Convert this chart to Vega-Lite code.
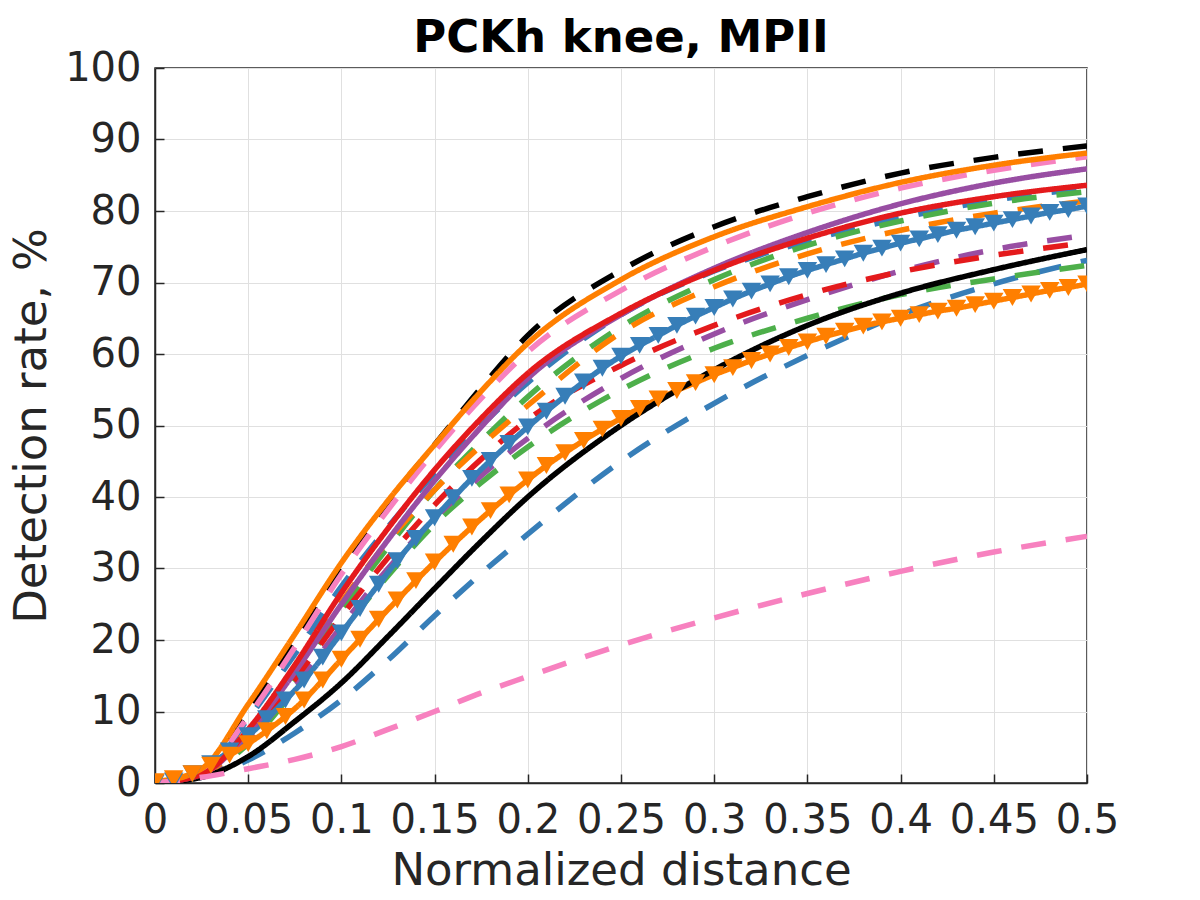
{
  "$schema": "https://vega.github.io/schema/vega-lite/v6.json",
  "width": 932,
  "height": 715,
  "autosize": {"type": "none"},
  "padding": {"left": 155, "top": 68, "right": 113, "bottom": 117},
  "background": "white",
  "title": {
    "text": "PCKh knee, MPII",
    "font": "DejaVu Sans",
    "fontSize": 45,
    "fontWeight": "bold",
    "color": "#000000",
    "anchor": "middle",
    "frame": "group",
    "baseline": "alphabetic",
    "offset": -49
  },
  "data": {"name": "curves"},
  "datasets": {
    "curves": [
      {"m": "blue_dash_lo", "t": 0, "r": 0}, {"m": "blue_dash_lo", "t": 0.025, "r": 0.8}, {"m": "blue_dash_lo", "t": 0.05, "r": 3.2}, {"m": "blue_dash_lo", "t": 0.075, "r": 7}, {"m": "blue_dash_lo", "t": 0.1, "r": 11.6}, {"m": "blue_dash_lo", "t": 0.125, "r": 17.2}, {"m": "blue_dash_lo", "t": 0.15, "r": 23.4}, {"m": "blue_dash_lo", "t": 0.175, "r": 29.3}, {"m": "blue_dash_lo", "t": 0.2, "r": 34.8}, {"m": "blue_dash_lo", "t": 0.25, "r": 45.0}, {"m": "blue_dash_lo", "t": 0.3, "r": 53.1}, {"m": "blue_dash_lo", "t": 0.35, "r": 59.8}, {"m": "blue_dash_lo", "t": 0.4, "r": 65.5}, {"m": "blue_dash_lo", "t": 0.45, "r": 69.8}, {"m": "blue_dash_lo", "t": 0.5, "r": 73.1},
      {"m": "blue_dash_hi", "t": 0, "r": 0}, {"m": "blue_dash_hi", "t": 0.025, "r": 1.2}, {"m": "blue_dash_hi", "t": 0.05, "r": 9}, {"m": "blue_dash_hi", "t": 0.075, "r": 18}, {"m": "blue_dash_hi", "t": 0.1, "r": 27.5}, {"m": "blue_dash_hi", "t": 0.125, "r": 35.8}, {"m": "blue_dash_hi", "t": 0.15, "r": 43.3}, {"m": "blue_dash_hi", "t": 0.175, "r": 50}, {"m": "blue_dash_hi", "t": 0.2, "r": 56}, {"m": "blue_dash_hi", "t": 0.25, "r": 65.5}, {"m": "blue_dash_hi", "t": 0.3, "r": 71.6}, {"m": "blue_dash_hi", "t": 0.35, "r": 75.8}, {"m": "blue_dash_hi", "t": 0.4, "r": 79.0}, {"m": "blue_dash_hi", "t": 0.45, "r": 81.5}, {"m": "blue_dash_hi", "t": 0.5, "r": 83.2},
      {"m": "green_dash_lo", "t": 0, "r": 0}, {"m": "green_dash_lo", "t": 0.025, "r": 1}, {"m": "green_dash_lo", "t": 0.05, "r": 5.5}, {"m": "green_dash_lo", "t": 0.075, "r": 13}, {"m": "green_dash_lo", "t": 0.1, "r": 21.2}, {"m": "green_dash_lo", "t": 0.125, "r": 29}, {"m": "green_dash_lo", "t": 0.15, "r": 36.2}, {"m": "green_dash_lo", "t": 0.175, "r": 42}, {"m": "green_dash_lo", "t": 0.2, "r": 47.0}, {"m": "green_dash_lo", "t": 0.25, "r": 55.0}, {"m": "green_dash_lo", "t": 0.3, "r": 60.8}, {"m": "green_dash_lo", "t": 0.35, "r": 65.0}, {"m": "green_dash_lo", "t": 0.4, "r": 68.3}, {"m": "green_dash_lo", "t": 0.45, "r": 70.5}, {"m": "green_dash_lo", "t": 0.5, "r": 72.4},
      {"m": "green_dash_hi", "t": 0, "r": 0}, {"m": "green_dash_hi", "t": 0.025, "r": 1}, {"m": "green_dash_hi", "t": 0.05, "r": 6.5}, {"m": "green_dash_hi", "t": 0.075, "r": 14.5}, {"m": "green_dash_hi", "t": 0.1, "r": 24.2}, {"m": "green_dash_hi", "t": 0.125, "r": 33}, {"m": "green_dash_hi", "t": 0.15, "r": 41.0}, {"m": "green_dash_hi", "t": 0.175, "r": 47.8}, {"m": "green_dash_hi", "t": 0.2, "r": 54.0}, {"m": "green_dash_hi", "t": 0.25, "r": 63.8}, {"m": "green_dash_hi", "t": 0.3, "r": 70.4}, {"m": "green_dash_hi", "t": 0.35, "r": 75.2}, {"m": "green_dash_hi", "t": 0.4, "r": 78.6}, {"m": "green_dash_hi", "t": 0.45, "r": 81.1}, {"m": "green_dash_hi", "t": 0.5, "r": 82.7},
      {"m": "purple_dash", "t": 0, "r": 0}, {"m": "purple_dash", "t": 0.025, "r": 1}, {"m": "purple_dash", "t": 0.05, "r": 6}, {"m": "purple_dash", "t": 0.075, "r": 13.5}, {"m": "purple_dash", "t": 0.1, "r": 21.9}, {"m": "purple_dash", "t": 0.125, "r": 30}, {"m": "purple_dash", "t": 0.15, "r": 37.0}, {"m": "purple_dash", "t": 0.175, "r": 43}, {"m": "purple_dash", "t": 0.2, "r": 48.2}, {"m": "purple_dash", "t": 0.25, "r": 56.6}, {"m": "purple_dash", "t": 0.3, "r": 62.8}, {"m": "purple_dash", "t": 0.35, "r": 67.6}, {"m": "purple_dash", "t": 0.4, "r": 71.6}, {"m": "purple_dash", "t": 0.45, "r": 74.6}, {"m": "purple_dash", "t": 0.5, "r": 76.6},
      {"m": "red_dash", "t": 0, "r": 0}, {"m": "red_dash", "t": 0.025, "r": 1.2}, {"m": "red_dash", "t": 0.05, "r": 6.5}, {"m": "red_dash", "t": 0.075, "r": 14.5}, {"m": "red_dash", "t": 0.1, "r": 23.3}, {"m": "red_dash", "t": 0.125, "r": 31.5}, {"m": "red_dash", "t": 0.15, "r": 38.9}, {"m": "red_dash", "t": 0.175, "r": 45.3}, {"m": "red_dash", "t": 0.2, "r": 50.8}, {"m": "red_dash", "t": 0.25, "r": 58.4}, {"m": "red_dash", "t": 0.3, "r": 64.0}, {"m": "red_dash", "t": 0.35, "r": 68.3}, {"m": "red_dash", "t": 0.4, "r": 71.5}, {"m": "red_dash", "t": 0.45, "r": 73.8}, {"m": "red_dash", "t": 0.5, "r": 75.6},
      {"m": "orange_dash", "t": 0, "r": 0}, {"m": "orange_dash", "t": 0.025, "r": 1}, {"m": "orange_dash", "t": 0.05, "r": 7}, {"m": "orange_dash", "t": 0.075, "r": 15.8}, {"m": "orange_dash", "t": 0.1, "r": 25.3}, {"m": "orange_dash", "t": 0.125, "r": 33.8}, {"m": "orange_dash", "t": 0.15, "r": 41}, {"m": "orange_dash", "t": 0.175, "r": 47.2}, {"m": "orange_dash", "t": 0.2, "r": 52.8}, {"m": "orange_dash", "t": 0.25, "r": 63.0}, {"m": "orange_dash", "t": 0.3, "r": 69.4}, {"m": "orange_dash", "t": 0.35, "r": 74.0}, {"m": "orange_dash", "t": 0.4, "r": 77.3}, {"m": "orange_dash", "t": 0.45, "r": 79.7}, {"m": "orange_dash", "t": 0.5, "r": 81.4},
      {"m": "blue_tri", "t": 0, "r": 0}, {"m": "blue_tri", "t": 0.01, "r": 0.3}, {"m": "blue_tri", "t": 0.02, "r": 1.3}, {"m": "blue_tri", "t": 0.03, "r": 2.7}, {"m": "blue_tri", "t": 0.04, "r": 4.5}, {"m": "blue_tri", "t": 0.05, "r": 6.6}, {"m": "blue_tri", "t": 0.06, "r": 9.0}, {"m": "blue_tri", "t": 0.07, "r": 11.6}, {"m": "blue_tri", "t": 0.08, "r": 14.4}, {"m": "blue_tri", "t": 0.09, "r": 17.6},
      {"m": "blue_tri", "t": 0.1, "r": 21.0}, {"m": "blue_tri", "t": 0.11, "r": 24.4}, {"m": "blue_tri", "t": 0.12, "r": 27.8}, {"m": "blue_tri", "t": 0.13, "r": 31.1}, {"m": "blue_tri", "t": 0.14, "r": 34.2}, {"m": "blue_tri", "t": 0.15, "r": 37.1}, {"m": "blue_tri", "t": 0.16, "r": 39.9}, {"m": "blue_tri", "t": 0.17, "r": 42.6}, {"m": "blue_tri", "t": 0.18, "r": 45.1}, {"m": "blue_tri", "t": 0.19, "r": 47.5},
      {"m": "blue_tri", "t": 0.2, "r": 49.8}, {"m": "blue_tri", "t": 0.21, "r": 52.0}, {"m": "blue_tri", "t": 0.22, "r": 54.1}, {"m": "blue_tri", "t": 0.23, "r": 56.1}, {"m": "blue_tri", "t": 0.24, "r": 58.0}, {"m": "blue_tri", "t": 0.25, "r": 59.7}, {"m": "blue_tri", "t": 0.26, "r": 61.2}, {"m": "blue_tri", "t": 0.27, "r": 62.6}, {"m": "blue_tri", "t": 0.28, "r": 64.0}, {"m": "blue_tri", "t": 0.29, "r": 65.3},
      {"m": "blue_tri", "t": 0.3, "r": 66.5}, {"m": "blue_tri", "t": 0.31, "r": 67.7}, {"m": "blue_tri", "t": 0.32, "r": 68.8}, {"m": "blue_tri", "t": 0.33, "r": 69.8}, {"m": "blue_tri", "t": 0.34, "r": 70.8}, {"m": "blue_tri", "t": 0.35, "r": 71.7}, {"m": "blue_tri", "t": 0.36, "r": 72.5}, {"m": "blue_tri", "t": 0.37, "r": 73.3}, {"m": "blue_tri", "t": 0.38, "r": 74.1}, {"m": "blue_tri", "t": 0.39, "r": 74.8},
      {"m": "blue_tri", "t": 0.4, "r": 75.5}, {"m": "blue_tri", "t": 0.41, "r": 76.1}, {"m": "blue_tri", "t": 0.42, "r": 76.7}, {"m": "blue_tri", "t": 0.43, "r": 77.3}, {"m": "blue_tri", "t": 0.44, "r": 77.8}, {"m": "blue_tri", "t": 0.45, "r": 78.3}, {"m": "blue_tri", "t": 0.46, "r": 78.8}, {"m": "blue_tri", "t": 0.47, "r": 79.3}, {"m": "blue_tri", "t": 0.48, "r": 79.8}, {"m": "blue_tri", "t": 0.49, "r": 80.2}, {"m": "blue_tri", "t": 0.5, "r": 80.7},
      {"m": "orange_tri", "t": 0, "r": 0.2}, {"m": "orange_tri", "t": 0.01, "r": 0.6}, {"m": "orange_tri", "t": 0.02, "r": 1.3}, {"m": "orange_tri", "t": 0.03, "r": 2.5}, {"m": "orange_tri", "t": 0.04, "r": 3.9}, {"m": "orange_tri", "t": 0.05, "r": 5.5}, {"m": "orange_tri", "t": 0.06, "r": 7.3}, {"m": "orange_tri", "t": 0.07, "r": 9.3}, {"m": "orange_tri", "t": 0.08, "r": 11.6}, {"m": "orange_tri", "t": 0.09, "r": 14.4},
      {"m": "orange_tri", "t": 0.1, "r": 17.3}, {"m": "orange_tri", "t": 0.11, "r": 20.1}, {"m": "orange_tri", "t": 0.12, "r": 22.9}, {"m": "orange_tri", "t": 0.13, "r": 25.6}, {"m": "orange_tri", "t": 0.14, "r": 28.3}, {"m": "orange_tri", "t": 0.15, "r": 30.9}, {"m": "orange_tri", "t": 0.16, "r": 33.4}, {"m": "orange_tri", "t": 0.17, "r": 35.8}, {"m": "orange_tri", "t": 0.18, "r": 38.1}, {"m": "orange_tri", "t": 0.19, "r": 40.3},
      {"m": "orange_tri", "t": 0.2, "r": 42.4}, {"m": "orange_tri", "t": 0.21, "r": 44.4}, {"m": "orange_tri", "t": 0.22, "r": 46.2}, {"m": "orange_tri", "t": 0.23, "r": 47.9}, {"m": "orange_tri", "t": 0.24, "r": 49.5}, {"m": "orange_tri", "t": 0.25, "r": 51.0}, {"m": "orange_tri", "t": 0.26, "r": 52.4}, {"m": "orange_tri", "t": 0.27, "r": 53.7}, {"m": "orange_tri", "t": 0.28, "r": 54.9}, {"m": "orange_tri", "t": 0.29, "r": 56.0},
      {"m": "orange_tri", "t": 0.3, "r": 57.1}, {"m": "orange_tri", "t": 0.31, "r": 58.1}, {"m": "orange_tri", "t": 0.32, "r": 59.1}, {"m": "orange_tri", "t": 0.33, "r": 60.0}, {"m": "orange_tri", "t": 0.34, "r": 60.9}, {"m": "orange_tri", "t": 0.35, "r": 61.7}, {"m": "orange_tri", "t": 0.36, "r": 62.5}, {"m": "orange_tri", "t": 0.37, "r": 63.2}, {"m": "orange_tri", "t": 0.38, "r": 63.9}, {"m": "orange_tri", "t": 0.39, "r": 64.5},
      {"m": "orange_tri", "t": 0.4, "r": 65.0}, {"m": "orange_tri", "t": 0.41, "r": 65.5}, {"m": "orange_tri", "t": 0.42, "r": 66.0}, {"m": "orange_tri", "t": 0.43, "r": 66.4}, {"m": "orange_tri", "t": 0.44, "r": 66.9}, {"m": "orange_tri", "t": 0.45, "r": 67.4}, {"m": "orange_tri", "t": 0.46, "r": 67.9}, {"m": "orange_tri", "t": 0.47, "r": 68.4}, {"m": "orange_tri", "t": 0.48, "r": 68.9}, {"m": "orange_tri", "t": 0.49, "r": 69.3}, {"m": "orange_tri", "t": 0.5, "r": 69.8},
      {"m": "black_solid", "t": 0, "r": 0}, {"m": "black_solid", "t": 0.025, "r": 0.8}, {"m": "black_solid", "t": 0.05, "r": 3.7}, {"m": "black_solid", "t": 0.075, "r": 8.6}, {"m": "black_solid", "t": 0.1, "r": 14.0}, {"m": "black_solid", "t": 0.125, "r": 20.5}, {"m": "black_solid", "t": 0.15, "r": 27.2}, {"m": "black_solid", "t": 0.175, "r": 33.8}, {"m": "black_solid", "t": 0.2, "r": 40}, {"m": "black_solid", "t": 0.25, "r": 50.0}, {"m": "black_solid", "t": 0.3, "r": 57.8}, {"m": "black_solid", "t": 0.35, "r": 64.0}, {"m": "black_solid", "t": 0.4, "r": 68.5}, {"m": "black_solid", "t": 0.45, "r": 71.8}, {"m": "black_solid", "t": 0.5, "r": 74.6},
      {"m": "black_dash", "t": 0, "r": 0}, {"m": "black_dash", "t": 0.025, "r": 1.5}, {"m": "black_dash", "t": 0.05, "r": 10}, {"m": "black_dash", "t": 0.075, "r": 20}, {"m": "black_dash", "t": 0.1, "r": 30.3}, {"m": "black_dash", "t": 0.125, "r": 39.3}, {"m": "black_dash", "t": 0.15, "r": 47.3}, {"m": "black_dash", "t": 0.175, "r": 55.3}, {"m": "black_dash", "t": 0.2, "r": 62.6}, {"m": "black_dash", "t": 0.25, "r": 71.7}, {"m": "black_dash", "t": 0.3, "r": 77.8}, {"m": "black_dash", "t": 0.35, "r": 82.0}, {"m": "black_dash", "t": 0.4, "r": 85.3}, {"m": "black_dash", "t": 0.45, "r": 87.5}, {"m": "black_dash", "t": 0.5, "r": 89.1},
      {"m": "pink_dash_hi", "t": 0, "r": 0}, {"m": "pink_dash_hi", "t": 0.025, "r": 1.5}, {"m": "pink_dash_hi", "t": 0.05, "r": 9.3}, {"m": "pink_dash_hi", "t": 0.075, "r": 19}, {"m": "pink_dash_hi", "t": 0.1, "r": 29.2}, {"m": "pink_dash_hi", "t": 0.125, "r": 38.2}, {"m": "pink_dash_hi", "t": 0.15, "r": 46.4}, {"m": "pink_dash_hi", "t": 0.175, "r": 53.8}, {"m": "pink_dash_hi", "t": 0.2, "r": 60.3}, {"m": "pink_dash_hi", "t": 0.25, "r": 68.9}, {"m": "pink_dash_hi", "t": 0.3, "r": 75.0}, {"m": "pink_dash_hi", "t": 0.35, "r": 79.7}, {"m": "pink_dash_hi", "t": 0.4, "r": 83.2}, {"m": "pink_dash_hi", "t": 0.45, "r": 85.7}, {"m": "pink_dash_hi", "t": 0.5, "r": 87.6},
      {"m": "purple_solid", "t": 0, "r": 0}, {"m": "purple_solid", "t": 0.025, "r": 1.2}, {"m": "purple_solid", "t": 0.05, "r": 7}, {"m": "purple_solid", "t": 0.075, "r": 15.5}, {"m": "purple_solid", "t": 0.1, "r": 25.0}, {"m": "purple_solid", "t": 0.125, "r": 34}, {"m": "purple_solid", "t": 0.15, "r": 42.3}, {"m": "purple_solid", "t": 0.175, "r": 49.8}, {"m": "purple_solid", "t": 0.2, "r": 56.6}, {"m": "purple_solid", "t": 0.25, "r": 65.5}, {"m": "purple_solid", "t": 0.3, "r": 72.0}, {"m": "purple_solid", "t": 0.35, "r": 77.0}, {"m": "purple_solid", "t": 0.4, "r": 81.0}, {"m": "purple_solid", "t": 0.45, "r": 83.9}, {"m": "purple_solid", "t": 0.5, "r": 85.9},
      {"m": "red_solid", "t": 0, "r": 0}, {"m": "red_solid", "t": 0.025, "r": 1.2}, {"m": "red_solid", "t": 0.05, "r": 7.5}, {"m": "red_solid", "t": 0.075, "r": 16.5}, {"m": "red_solid", "t": 0.1, "r": 26.6}, {"m": "red_solid", "t": 0.125, "r": 35.6}, {"m": "red_solid", "t": 0.15, "r": 43.8}, {"m": "red_solid", "t": 0.175, "r": 51.0}, {"m": "red_solid", "t": 0.2, "r": 57.3}, {"m": "red_solid", "t": 0.25, "r": 65.7}, {"m": "red_solid", "t": 0.3, "r": 71.7}, {"m": "red_solid", "t": 0.35, "r": 76.2}, {"m": "red_solid", "t": 0.4, "r": 79.7}, {"m": "red_solid", "t": 0.45, "r": 82.0}, {"m": "red_solid", "t": 0.5, "r": 83.6},
      {"m": "orange_solid", "t": 0, "r": 0}, {"m": "orange_solid", "t": 0.025, "r": 2}, {"m": "orange_solid", "t": 0.05, "r": 11}, {"m": "orange_solid", "t": 0.075, "r": 20.8}, {"m": "orange_solid", "t": 0.1, "r": 30.8}, {"m": "orange_solid", "t": 0.125, "r": 39.5}, {"m": "orange_solid", "t": 0.15, "r": 47.3}, {"m": "orange_solid", "t": 0.175, "r": 54.8}, {"m": "orange_solid", "t": 0.2, "r": 61.5}, {"m": "orange_solid", "t": 0.25, "r": 70.4}, {"m": "orange_solid", "t": 0.3, "r": 76.4}, {"m": "orange_solid", "t": 0.35, "r": 80.6}, {"m": "orange_solid", "t": 0.4, "r": 84.0}, {"m": "orange_solid", "t": 0.45, "r": 86.4}, {"m": "orange_solid", "t": 0.5, "r": 88.1},
      {"m": "pink_dash_lo", "t": 0, "r": 0}, {"m": "pink_dash_lo", "t": 0.025, "r": 0.8}, {"m": "pink_dash_lo", "t": 0.05, "r": 2.0}, {"m": "pink_dash_lo", "t": 0.075, "r": 3.3}, {"m": "pink_dash_lo", "t": 0.1, "r": 5.1}, {"m": "pink_dash_lo", "t": 0.125, "r": 7.5}, {"m": "pink_dash_lo", "t": 0.15, "r": 10.0}, {"m": "pink_dash_lo", "t": 0.175, "r": 12.6}, {"m": "pink_dash_lo", "t": 0.2, "r": 14.9}, {"m": "pink_dash_lo", "t": 0.25, "r": 19.3}, {"m": "pink_dash_lo", "t": 0.3, "r": 23.1}, {"m": "pink_dash_lo", "t": 0.35, "r": 26.5}, {"m": "pink_dash_lo", "t": 0.4, "r": 29.6}, {"m": "pink_dash_lo", "t": 0.45, "r": 32.3}, {"m": "pink_dash_lo", "t": 0.5, "r": 34.5}
    ]
  },
  "encoding": {
    "x": {
      "field": "t",
      "type": "quantitative",
      "scale": {"domain": [0, 0.5], "nice": false},
      "axis": {
        "values": [0, 0.05, 0.1, 0.15, 0.2, 0.25, 0.3, 0.35, 0.4, 0.45, 0.5],
        "format": "~g",
        "title": "Normalized distance",
        "labelPadding": 26,
        "titlePadding": 8
      }
    },
    "y": {
      "field": "r",
      "type": "quantitative",
      "scale": {"domain": [0, 100], "nice": false},
      "axis": {
        "values": [0, 10, 20, 30, 40, 50, 60, 70, 80, 90, 100],
        "title": "Detection rate, %",
        "labelPadding": 23,
        "titlePadding": 10
      }
    },
    "color": {
      "field": "m",
      "type": "nominal",
      "legend": null,
      "scale": {
        "domain": ["blue_dash_lo", "blue_dash_hi", "green_dash_lo", "green_dash_hi", "purple_dash", "red_dash", "orange_dash", "blue_tri", "orange_tri", "black_solid", "black_dash", "pink_dash_hi", "purple_solid", "red_solid", "orange_solid", "pink_dash_lo"],
        "range": ["#377eb8", "#377eb8", "#4daf4a", "#4daf4a", "#984ea3", "#e41a1c", "#ff7f00", "#377eb8", "#ff7f00", "#000000", "#000000", "#f781bf", "#984ea3", "#e41a1c", "#ff7f00", "#f781bf"]
      }
    }
  },
  "layer": [
    {
      "mark": {"type": "line", "strokeWidth": 5.5, "interpolate": "monotone", "clip": true},
      "encoding": {
        "strokeDash": {
          "field": "m",
          "type": "nominal",
          "legend": null,
          "scale": {
            "domain": ["blue_dash_lo", "blue_dash_hi", "green_dash_lo", "green_dash_hi", "purple_dash", "red_dash", "orange_dash", "blue_tri", "orange_tri", "black_solid", "black_dash", "pink_dash_hi", "purple_solid", "red_solid", "orange_solid", "pink_dash_lo"],
            "range": [[25, 20], [25, 20], [25, 20], [25, 20], [25, 20], [25, 20], [25, 20], [1, 0], [1, 0], [1, 0], [25, 20], [25, 20], [1, 0], [1, 0], [1, 0], [25, 20]]
          }
        }
      }
    },
    {
      "transform": [{"filter": {"field": "m", "oneOf": ["blue_tri", "orange_tri"]}}],
      "mark": {"type": "point", "shape": "triangle-down", "filled": true, "size": 380, "opacity": 1, "clip": true}
    }
  ],
  "config": {
    "font": "DejaVu Sans",
    "view": {"stroke": "#262626", "strokeWidth": 1.5},
    "axis": {
      "labelFont": "DejaVu Sans",
      "labelFontSize": 40,
      "labelColor": "#262626",
      "labelFlush": false,
      "labelOverlap": false,
      "labelBound": false,
      "titleFont": "DejaVu Sans",
      "titleFontSize": 45,
      "titleFontWeight": "normal",
      "titleColor": "#262626",
      "tickSize": -9,
      "tickWidth": 1.5,
      "tickColor": "#262626",
      "domainColor": "#262626",
      "domainWidth": 1.5,
      "gridColor": "#e0e0e0",
      "gridWidth": 1
    }
  }
}
